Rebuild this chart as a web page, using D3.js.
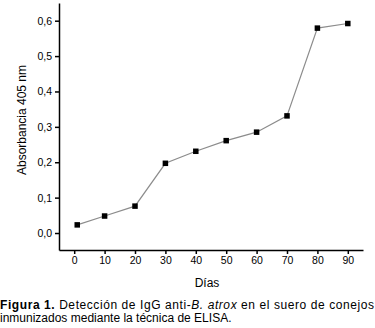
<!DOCTYPE html>
<html>
<head>
<meta charset="utf-8">
<script src="https://cdn.jsdelivr.net/npm/d3@7"></script>
<style>
body { margin: 0; background: #fff; }
text { font-family: "Liberation Sans", Arial, sans-serif; }
</style>
</head>
<body>
<div id="canvas"></div>
<script>
"use strict";

let svgWidth = 375;
let svgHeight = 328;

// data
let days = [1, 10, 20, 30, 40, 50, 60, 70, 80, 90];
let absorbance = [0.023, 0.048, 0.076, 0.197, 0.231, 0.261, 0.285, 0.331, 0.579, 0.592];
let xTicks = [0, 10, 20, 30, 40, 50, 60, 70, 80, 90];
let yTicks = [0, 0.1, 0.2, 0.3, 0.4, 0.5, 0.6];

let svg = d3.select("#canvas")
    .append("svg")
    .attr("width", svgWidth)
    .attr("height", svgHeight);

/* ---------------- SCALES ---------------- */

let xScale = d3.scaleLinear()
    .domain([-5, 95])
    .range([59, 363]);

let yScale = d3.scaleLinear()
    .domain([-0.048, 0.65])
    .range([250, 3]);

/* ---------------- AXES ---------------- */

let fmt = function (d) { return d3.format(".1f")(d).replace(".", ","); };

let yAxis = d3.axisLeft(yScale)
    .tickValues(yTicks)
    .tickFormat(fmt)
    .tickSize(4)
    .tickPadding(3)
    .tickSizeOuter(0);

let gy = svg.append("g")
    .attr("transform", "translate(59,0)")
    .call(yAxis);

let xAxis = d3.axisBottom(xScale)
    .tickValues(xTicks)
    .tickSize(4)
    .tickPadding(3)
    .tickSizeOuter(0);

let gx = svg.append("g")
    .attr("transform", "translate(0,250)")
    .call(xAxis);

[gx, gy].forEach(function (g) {
    g.select(".domain").attr("stroke", "#000").attr("stroke-width", 1.5);
    g.selectAll(".tick line").attr("stroke", "#000").attr("stroke-width", 1.5);
    g.selectAll(".tick text")
        .attr("fill", "#000")
        .attr("font-size", "10.5px")
        .attr("font-family", "Liberation Sans, Arial, sans-serif");
});

/* ---------------- LINE + MARKERS ---------------- */

let points = days.map(function (d, i) { return { day: d, value: absorbance[i] }; });

let line = d3.line()
    .x(function (d) { return xScale(d.day); })
    .y(function (d) { return yScale(d.value); });

svg.append("path")
    .datum(points)
    .attr("d", line)
    .attr("fill", "none")
    .attr("stroke", "#8c8c8c")
    .attr("stroke-width", 1.2);

let markerSize = 5.5;

svg.selectAll(".marker")
    .data(points)
    .enter()
    .append("rect")
    .attr("class", "marker")
    .attr("x", function (d) { return xScale(d.day) - markerSize / 2; })
    .attr("y", function (d) { return yScale(d.value) - markerSize / 2; })
    .attr("width", markerSize)
    .attr("height", markerSize)
    .attr("fill", "#000");

/* ---------------- LABELS ---------------- */

svg.append("text")
    .attr("transform", "translate(26,120) rotate(-90)")
    .attr("text-anchor", "middle")
    .attr("font-size", "12px")
    .text("Absorbancia 405 nm");

svg.append("text")
    .attr("x", 207)
    .attr("y", 287)
    .attr("text-anchor", "middle")
    .attr("font-size", "12px")
    .text("Días");

/* caption, two lines */
let cap1 = svg.append("text")
    .attr("x", 0)
    .attr("y", 308.5)
    .attr("font-size", "12px")
    .attr("textLength", 374)
    .attr("lengthAdjust", "spacing");

cap1.append("tspan").attr("font-weight", "bold").text("Figura 1.");
cap1.append("tspan").text(" Detección de IgG anti-");
cap1.append("tspan").attr("font-style", "italic").text("B. atrox");
cap1.append("tspan").text(" en el suero de conejos");

svg.append("text")
    .attr("x", 0)
    .attr("y", 322)
    .attr("font-size", "12px")
    .text("inmunizados mediante la técnica de ELISA.");
</script>
</body>
</html>
